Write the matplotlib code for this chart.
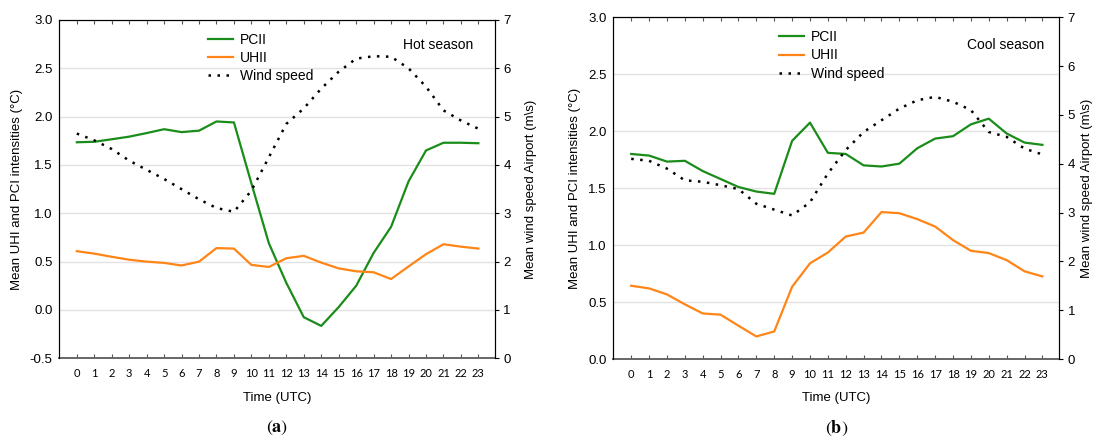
import matplotlib
matplotlib.use("Agg")
import matplotlib.pyplot as plt
from matplotlib.ticker import FormatStrFormatter

plt.rcParams['font.family'] = ['Liberation Sans', 'DejaVu Sans']
plt.rcParams['axes.unicode_minus'] = False
plt.rcParams['mathtext.fontset'] = 'stix'

# === data ===
hours = list(range(24))

# hot season
pcii_hot = [1.735, 1.74, 1.766, 1.793, 1.83, 1.87, 1.84, 1.855, 1.95, 1.94, 1.31, 0.69,
            0.28, -0.075, -0.165, 0.03, 0.25, 0.59, 0.86, 1.33, 1.65, 1.73, 1.73, 1.725]
uhii_hot = [0.608, 0.583, 0.55, 0.52, 0.50, 0.487, 0.46, 0.50, 0.64, 0.635, 0.466, 0.445,
            0.535, 0.56, 0.49, 0.43, 0.40, 0.39, 0.32, 0.45, 0.577, 0.68, 0.655, 0.635]
wind_hot = [4.65, 4.51, 4.33, 4.09, 3.90, 3.71, 3.50, 3.29, 3.11, 3.03, 3.47, 4.16,
            4.85, 5.17, 5.58, 5.93, 6.20, 6.25, 6.24, 6.00, 5.62, 5.13, 4.92, 4.75]

# cool season
pcii_cool = [1.80, 1.786, 1.733, 1.74, 1.65, 1.58, 1.51, 1.47, 1.45, 1.915, 2.075, 1.81,
             1.80, 1.70, 1.69, 1.715, 1.85, 1.935, 1.956, 2.06, 2.11, 1.98, 1.90, 1.88]
uhii_cool = [0.643, 0.62, 0.567, 0.48, 0.40, 0.389, 0.292, 0.198, 0.242, 0.634, 0.84, 0.935,
             1.075, 1.11, 1.29, 1.28, 1.228, 1.163, 1.044, 0.95, 0.93, 0.868, 0.77, 0.725]
wind_cool = [4.10, 4.06, 3.90, 3.66, 3.63, 3.56, 3.48, 3.18, 3.06, 2.94, 3.21, 3.80,
             4.28, 4.65, 4.89, 5.13, 5.30, 5.37, 5.27, 5.10, 4.65, 4.55, 4.31, 4.19]

GREEN = '#1a8c1a'
ORANGE = '#ff8517'


def panel(rect, pcii, uhii, wind, ylim, season, leg_x, season_xy, tag, rpad):
    ax = fig.add_axes(rect)
    l1, = ax.plot(hours, pcii, color=GREEN, lw=1.6, label='PCII')
    l2, = ax.plot(hours, uhii, color=ORANGE, lw=1.6, label='UHII')
    ax.set_xlim(-1, 23.95)
    ax.set_ylim(*ylim)
    ax.set_yticks([v / 2 for v in range(int(ylim[0] * 2), int(ylim[1] * 2) + 1)])
    ax.yaxis.set_major_formatter(FormatStrFormatter('%.1f'))
    ax.set_xticks(hours)
    ax.set_xticklabels([str(h) for h in hours], family='Lato', fontsize=8)
    ax.tick_params(axis='x', direction='in', length=3, pad=7, top=True, color='#555555')
    ax.tick_params(axis='y', length=0, pad=5, labelsize=9.5)
    ax.grid(axis='y', color='#e2e2e2', lw=1)
    ax.set_axisbelow(True)
    ax.spines['bottom'].set_color('#666666')
    ax.spines['bottom'].set_linewidth(1.4)
    ax.set_ylabel('Mean UHI and PCI intensities (°C)', fontsize=9.5, labelpad=5)
    ax.set_xlabel('Time (UTC)', fontsize=9.5, labelpad=9)

    ax2 = ax.twinx()
    l3, = ax2.plot(hours, wind, color='black', lw=1.8, ls=(0, (1, 2.6)), label='Wind speed')
    ax2.set_ylim(0, 7)
    ax2.set_yticks(range(8))
    ax2.tick_params(axis='y', direction='out', length=3, pad=3, labelsize=9.5)
    ax2.set_ylabel('Mean wind speed Airport (m\\s)', fontsize=9.5, labelpad=rpad)
    ax2.spines['bottom'].set_visible(False)

    ax.legend(handles=[l1, l2, l3], loc='upper left', bbox_to_anchor=(leg_x, 0.962),
              frameon=False, fontsize=10, handlelength=1.8, handletextpad=0.5,
              labelspacing=0.3, borderpad=0, borderaxespad=0)
    ax.text(season_xy[0], season_xy[1], season, transform=ax.transAxes,
            fontsize=10, va='center', ha='left')
    fig.text(rect[0] + rect[2] / 2, 0.034, tag, ha='center', va='center', fontsize=13)
    return ax


fig = plt.figure(figsize=(10.97, 4.43), dpi=100)

panel([0.0541, 0.1912, 0.3971, 0.7637], pcii_hot, uhii_hot, wind_hot, (-0.5, 3.0),
      'Hot season', 0.341, (0.79, 0.925), r'$(\mathbf{a})$', 10)
panel([0.5591, 0.1896, 0.4066, 0.7714], pcii_cool, uhii_cool, wind_cool, (0.0, 3.0),
      'Cool season', 0.371, (0.792, 0.918), r'$(\mathbf{b})$', 4)

fig.savefig('out.png', dpi=100)
